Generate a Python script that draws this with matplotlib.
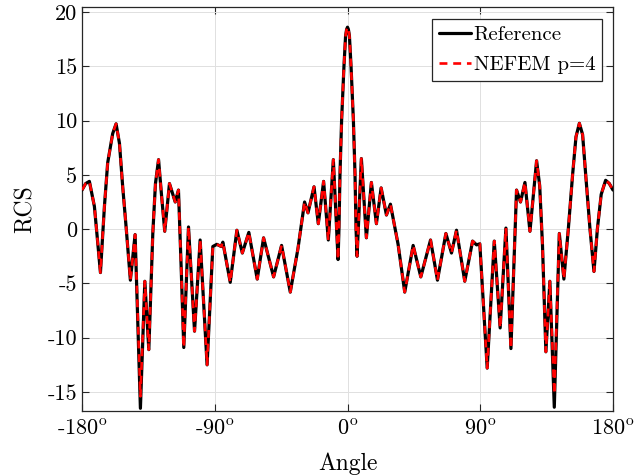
import numpy as np
import matplotlib
matplotlib.use("Agg")
import matplotlib.pyplot as plt

angle = [
    -180.0, -177.5, -175.0, -171.6, -169.3, -167.5, -164.8, -162.6, -159.2, -156.9,
    -154.6, -152.4, -150.1, -147.2, -144.0, -140.4, -137.4, -134.7, -132.0, -130.2,
    -128.1, -126.0, -123.9, -120.7, -116.8, -114.6, -112.8, -111.0, -107.8, -103.7,
    -99.9, -95.2, -91.3, -88.6, -85.6, -84.5, -79.5, -75.0, -71.3, -66.9,
    -61.2, -56.9, -50.1, -44.7, -38.8, -33.6, -29.1, -26.8, -22.7, -19.8,
    -16.2, -13.0, -9.6, -6.4, -5.8, -5.1, -4.0, -2.4, -1.3, -0.6, 0.0,
    0.6, 1.3, 2.4, 4.0, 5.1, 5.8, 6.5, 9.4, 12.8, 16.2, 19.6,
    22.8, 26.4, 29.1, 34.3, 38.8, 44.5, 49.7, 56.3, 61.0, 66.7,
    70.5, 73.9, 79.5, 84.8, 87.5, 89.7, 94.7, 99.5, 103.5, 107.4,
    110.8, 114.6, 117.3, 120.3, 123.7, 128.2, 130.3, 132.2, 134.5, 137.2,
    140.2, 143.6, 146.7, 149.7, 152.6, 154.9, 157.2, 159.4, 161.5, 164.4,
    167.1, 169.4, 172.0, 175.0, 177.5, 180.0,
]
rcs_ref = [
    3.6, 4.2, 4.4, 2.1, -1.3, -4.0, 2.1, 6.1, 8.8, 9.7,
    7.9, 3.9, 0.2, -4.7, -0.5, -16.5, -4.8, -11.1, -0.4, 4.2,
    6.4, 3.0, -0.2, 4.2, 2.5, 3.6, -3.4, -10.9, 0.2, -9.4,
    -1.0, -12.5, -1.6, -1.4, -1.6, -1.2, -4.9, -0.1, -2.2, -0.3,
    -4.6, -0.8, -4.4, -1.5, -5.8, -1.8, 2.5, 1.5, 3.9, 0.5,
    4.4, -1.0, 6.4, -2.8, 0.0, 5.0, 10.0, 15.0, 17.8, 18.4, 18.6,
    18.4, 17.8, 15.0, 10.0, 5.0, 0.0, -2.5, 6.5, -0.8, 4.3, 0.5,
    3.8, 1.3, 2.3, -1.4, -5.8, -1.5, -4.4, -1.0, -4.7, -0.4,
    -2.2, -0.1, -4.8, -1.1, -1.45, -1.35, -12.8, -1.1, -9.1, 0.1,
    -11.0, 3.6, 2.5, 4.3, -0.2, 6.3, 4.0, -1.5, -11.3, -4.8,
    -16.4, -0.4, -4.6, 0.0, 5.0, 8.5, 9.75, 8.7, 5.0, 0.0,
    -3.9, 0.0, 3.2, 4.5, 4.2, 3.6,
]
# NEFEM p=4 follows the reference except at the two deepest nulls
nefem_nulls = {-140.4: -15.4, 140.2: -15.2}
rcs_nefem = [nefem_nulls.get(a, v) for a, v in zip(angle, rcs_ref)]

xticks = [-180, -90, 0, 90, 180]
xticklabels = [r"-180$^{\rm o}$", r"-90$^{\rm o}$", r"0$^{\rm o}$",
               r"90$^{\rm o}$", r"180$^{\rm o}$"]
yticks = [-15, -10, -5, 0, 5, 10, 15, 20]

plt.rcParams["font.family"] = "cmr10"
plt.rcParams["mathtext.fontset"] = "cm"
plt.rcParams["axes.unicode_minus"] = False
plt.rcParams["axes.formatter.use_mathtext"] = True

_FRAME = "#262626"

fig = plt.figure(figsize=(6.38, 4.76), dpi=100)
ax = fig.add_axes([82 / 638, 1 - 411 / 476, 531 / 638, 404 / 476])

ax.plot(angle, rcs_ref, color="black", lw=2.3, label="Reference", zorder=3,
        solid_joinstyle="round", solid_capstyle="round")
ax.plot(angle, rcs_nefem, color="#FF0000", lw=1.9, ls=(0, (3.0, 2.2)),
        label="NEFEM p=4", zorder=4, dash_joinstyle="round")

ax.set_xlim(-180, 180)
ax.set_ylim(-16.75, 20.46)
ax.set_xticks(xticks)
ax.set_xticklabels(xticklabels)
ax.set_yticks(yticks)
ax.set_yticklabels([str(v) for v in yticks])
ax.tick_params(direction="in", length=5, width=0.8, colors=_FRAME,
               labelsize=16, top=True, right=True, labelcolor="black")
ax.tick_params(axis="x", pad=6)
for s in ax.spines.values():
    s.set_color(_FRAME)
    s.set_linewidth(0.9)
ax.grid(True, color="#E0E0E0", linewidth=0.7)
ax.set_axisbelow(True)

ax.set_xlabel("Angle", fontsize=17, labelpad=10)
ax.set_ylabel("RCS", fontsize=17, labelpad=8)

leg = ax.legend(loc="upper right", bbox_to_anchor=(0.979, 0.970),
                borderaxespad=0, fontsize=15, fancybox=False, framealpha=1,
                edgecolor=_FRAME, handlelength=1.55, handletextpad=0.12,
                borderpad=0.32, labelspacing=0.55)
leg.get_frame().set_linewidth(0.9)

fig.savefig("out.png", dpi=100)
